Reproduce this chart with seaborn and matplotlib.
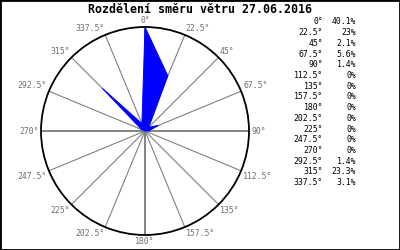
import numpy as np
import matplotlib
matplotlib.use("Agg")
import matplotlib.pyplot as plt
import seaborn as sns
from matplotlib.patches import Rectangle

# ---- data ----
title = "Rozdělení směru větru 27.06.2016"
directions = [0, 22.5, 45, 67.5, 90, 112.5, 135, 157.5, 180, 202.5, 225,
              247.5, 270, 292.5, 315, 337.5]
percent = [40.1, 23, 2.1, 5.6, 1.4, 0, 0, 0, 0, 0, 0, 0, 0, 1.4, 23.3, 3.1]
dir_labels = [f"{d:g}°" for d in directions]
pct_labels = [f"{p:g}%" for p in percent]

sns.set_style("white")
plt.rcParams['font.family'] = ['DejaVu Sans Mono', 'DejaVu Sans']

W, H = 400, 250
fig = plt.figure(figsize=(W / 100, H / 100), dpi=100)
fig.patch.set_facecolor("white")

cx, cy, R = 145, 131, 104
ax = fig.add_axes([(cx - R) / W, 1 - (cy + R) / H, 2 * R / W, 2 * R / H],
                  projection="polar")
ax.set_theta_zero_location("N")
ax.set_theta_direction(-1)
ax.set_facecolor("white")

theta = np.deg2rad(directions)
th_closed = np.append(theta, theta[0])
r_closed = np.append(percent, percent[0])
ax.fill(th_closed, r_closed, facecolor="#0000ff", edgecolor="#0000ff",
        lw=0.7, zorder=3)

rmax = max(percent)
ax.set_ylim(0, rmax)
ax.set_yticks([])
ax.set_xticks(theta)
ax.set_xticklabels([])
ax.grid(True, color="#808080", lw=0.8)
ax.yaxis.grid(False)
for d, gl in zip(directions, ax.xaxis.get_gridlines()):
    if d % 90 == 0:
        gl.set_linewidth(1.3)
        gl.set_color("#7a7a7a")
ax.spines["polar"].set_color("black")
ax.spines["polar"].set_linewidth(1.3)

for t, d, lab in zip(theta, directions, dir_labels):
    s, c = np.sin(t), np.cos(t)
    ha = "center" if abs(s) < 1e-6 else ("left" if s > 0 else "right")
    va = "center" if abs(c) < 1e-6 else ("bottom" if c > 0 else "top")
    ax.text(t, rmax * 1.02, lab, ha=ha, va=va, fontsize=5.9,
            color="#707070", clip_on=False)

fig.text(0.5, 1 - 9.5 / H, title, ha="center", va="center",
         fontsize=8.4, fontweight="bold", color="black")

for i, (dl, pl) in enumerate(zip(dir_labels, pct_labels)):
    y = 1 - (22 + i * 10.7) / H
    fig.text(323 / W, y, dl, ha="right", va="center", fontsize=5.9, color="black")
    fig.text(356 / W, y, pl, ha="right", va="center", fontsize=5.9, color="black")

fig.patches.append(Rectangle((0, 0), 1, 1, transform=fig.transFigure,
                             fill=False, ec="black", lw=2.0))

fig.savefig("out.png", dpi=100)
